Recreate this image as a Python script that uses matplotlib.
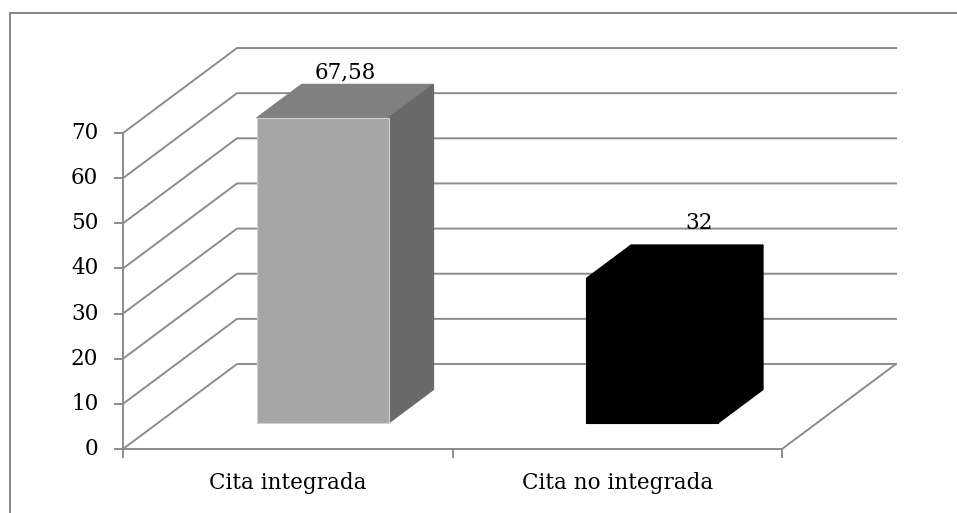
import matplotlib
matplotlib.use('Agg')
import matplotlib.pyplot as plt
from matplotlib.patches import Polygon
from matplotlib.lines import Line2D

# data
categories = ['Cita integrada', 'Cita no integrada']
values = [67.58, 32]
value_labels = ['67,58', '32']
yticks = [0, 10, 20, 30, 40, 50, 60, 70]

# look of the bars: front, side, top
face_colors = [('#a6a6a6', '#6a6a6a', '#808080'),
               ('#000000', '#000000', '#000000')]
label_offsets = [(0, 29), (25, 39)]   # pixels, for the value labels

grid_color = '#8c8c8c'
font = 'DejaVu Serif'
fsize = 15.5

# oblique depth of the 3d box, in data units
DX = 0.346
DY = 18.83
f_front, f_back = 0.306, 0.70
bar_w = 0.4

fig = plt.figure(figsize=(9.57, 5.13), dpi=100)
ax = fig.add_axes([0, 0, 1, 1])
# pixel -> data mapping: x=0 at 123px, 1 category = 329.5px ; y=0 at 449px, 10 = 45.14px
ax.set_xlim(-123 / 329.5, (957 - 123) / 329.5)
ax.set_ylim((449 - 513) / 4.514, 449 / 4.514)
ax.axis('off')

n = len(categories)

# back wall gridlines with their diagonal on the side wall
for v in yticks:
    ax.plot([0, DX, n + DX], [v, v + DY, v + DY], color=grid_color, lw=1.4, zorder=1,
            solid_joinstyle='miter')
    ax.plot([-0.025, 0], [v, v], color=grid_color, lw=1.4, zorder=1)
    ax.text(-0.075, v, str(v), ha='right', va='center', fontsize=fsize, family=font)

# front axis and floor
ax.plot([0, 0], [0, yticks[-1]], color=grid_color, lw=1.4, zorder=1)
ax.plot([0, n, n + DX], [0, 0, DY], color=grid_color, lw=1.4, zorder=1)
for i in range(n + 1):
    ax.plot([i, i], [0, -1.8], color=grid_color, lw=1.4, zorder=1)

# bars as oblique boxes
for i, v in enumerate(values):
    x0 = i + 0.5 - bar_w / 2
    x1 = x0 + bar_w
    fx, fy = f_front * DX, f_front * DY
    bx, by = f_back * DX, f_back * DY
    front, side, top = face_colors[i]
    ax.add_patch(Polygon([(x0 + fx, v + fy), (x1 + fx, v + fy), (x1 + bx, v + by), (x0 + bx, v + by)],
                         closed=True, fc=top, ec=top, lw=1.0, zorder=3))
    ax.add_patch(Polygon([(x1 + fx, fy), (x1 + bx, by), (x1 + bx, v + by), (x1 + fx, v + fy)],
                         closed=True, fc=side, ec=side, lw=1.0, zorder=3))
    ax.add_patch(Polygon([(x0 + fx, fy), (x1 + fx, fy), (x1 + fx, v + fy), (x0 + fx, v + fy)],
                         closed=True, fc=front, ec='#d0d0d0' if i == 0 else front, lw=0.8, zorder=3))
    fm = (f_front + f_back) / 2
    ax.annotate(value_labels[i], (i + 0.5 + fm * DX, v + fm * DY),
                xytext=label_offsets[i], textcoords='offset pixels',
                ha='center', va='center', fontsize=fsize, family=font, zorder=4)

# category labels
for i, c in enumerate(categories):
    ax.text(i + 0.5, (449 - 483) / 4.514, c, ha='center', va='center', fontsize=fsize, family=font)

# outer frame (top and left edges)
fig.add_artist(Line2D([10 / 957, 1], [1 - 13 / 513, 1 - 13 / 513], transform=fig.transFigure,
                      color='#868686', lw=1.4))
fig.add_artist(Line2D([10 / 957, 10 / 957], [0, 1 - 13 / 513], transform=fig.transFigure,
                      color='#868686', lw=1.4))

fig.savefig('out.png', dpi=100)
